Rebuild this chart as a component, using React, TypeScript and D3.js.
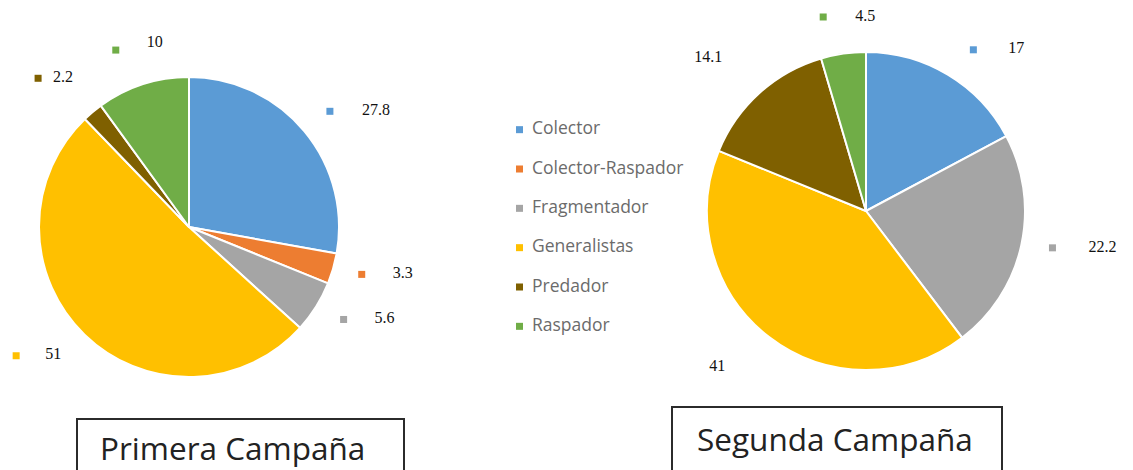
import React from "react";
import * as d3 from "d3";

const categories = ["Colector", "Colector-Raspador", "Fragmentador", "Generalistas", "Predador", "Raspador"];
const colors = ["#5B9BD5", "#ED7D31", "#A5A5A5", "#FFC000", "#7F6000", "#70AD47"];
const primeraValues = [27.8, 3.3, 5.6, 51, 2.2, 10];
const segundaValues = [17, 0, 22.2, 41, 14.1, 4.5];
const primeraLabels = ["27.8", "3.3", "5.6", "51", "2.2", "10"];
const segundaLabels = ["17", "", "22.2", "41", "14.1", "4.5"];
const titles = ["Primera Campaña", "Segunda Campaña"];

// layout (label adjustments relative to computed label anchor)
const primeraLayout = [
  { dx: -1, dy: 3, gap: 32, tdy: 0, marker: true },
  { dx: -5, dy: -4, gap: 31, tdy: 0, marker: true },
  { dx: -2, dy: -6, gap: 31, tdy: 0, marker: true },
  { dx: -44, dy: -4, gap: 29, tdy: 0, marker: true },
  { dx: -32, dy: -7, gap: 15, tdy: 0, marker: true },
  { dx: -16, dy: -1, gap: 31, tdy: -7, marker: true },
];
const segundaLayout = [
  { dx: 7, dy: 6, gap: 35, tdy: 0, marker: true },
  { dx: 0, dy: 0, gap: 0, tdy: 0, marker: false },
  { dx: -4, dy: -5, gap: 36, tdy: 0, marker: true },
  { dx: -70, dy: 2, gap: 32, tdy: 0, marker: false },
  { dx: -73, dy: -8, gap: 32, tdy: 0, marker: false },
  { dx: -15, dy: -1, gap: 32, tdy: 0, marker: true },
];

type PieProps = {
  values: number[];
  labels: string[];
  layout: { dx: number; dy: number; gap: number; tdy: number; marker: boolean }[];
  cx: number;
  cy: number;
  r: number;
  labelR: number;
};

function Pie({ values, labels, layout, cx, cy, r, labelR }: PieProps) {
  const pie = d3.pie<number>().sort(null).value((d) => d);
  const arcs = pie(values);
  const arc = d3.arc<d3.PieArcDatum<number>>().innerRadius(0).outerRadius(r);
  const labelArc = d3.arc<d3.PieArcDatum<number>>().innerRadius(labelR).outerRadius(labelR);
  return (
    <g transform={`translate(${cx},${cy})`}>
      {arcs.map((a, i) =>
        a.value > 0 ? (
          <path key={i} d={arc(a) || ""} fill={colors[i]} stroke="#fff" strokeWidth={2} strokeLinejoin="round" />
        ) : null
      )}
      {arcs.map((a, i) => {
        if (!labels[i]) return null;
        const [x, y] = labelArc.centroid(a);
        const L = layout[i];
        const mx = x + L.dx;
        const my = y + L.dy;
        return (
          <g key={"l" + i}>
            {L.marker && <rect x={mx - 3.5} y={my - 3.5} width={7} height={7} fill={colors[i]} />}
            <text
              x={mx + L.gap}
              y={my + L.tdy}
              dominantBaseline="middle"
              fontFamily="'Liberation Serif', 'DejaVu Serif', serif"
              fontSize={16}
              fill="#111"
            >
              {labels[i]}
            </text>
          </g>
        );
      })}
    </g>
  );
}

export default function App() {
  const legendY = d3.scaleBand<string>().domain(categories).range([110, 346]);
  return (
    <svg width={1133} height={470} style={{ position: "absolute", left: 0, top: 0, background: "#fff" }}>
      <rect width={1133} height={470} fill="#fff" />
      <Pie values={primeraValues} labels={primeraLabels} layout={primeraLayout} cx={189} cy={227} r={150} labelR={185} />
      <Pie values={segundaValues} labels={segundaLabels} layout={segundaLayout} cx={866} cy={211} r={159} labelR={195} />
      <g>
        {categories.map((c, i) => {
          const y = (legendY(c) || 0) + legendY.bandwidth() / 2;
          return (
            <g key={c}>
              <rect x={516} y={y - 3.5} width={7} height={7} fill={colors[i]} />
              <text x={532} y={y} dominantBaseline="middle" fontFamily="'Open Sans', sans-serif" fontSize={17.5} fill="#6b6b6b">
                {c}
              </text>
            </g>
          );
        })}
      </g>
      <rect x={77} y={419} width={327} height={70} fill="none" stroke="#2b2b2b" strokeWidth={2} />
      <text x={100} y={460} fontFamily="'Open Sans', sans-serif" fontSize={31.5} fill="#222">
        {titles[0]}
      </text>
      <rect x={672} y={407} width={330} height={80} fill="none" stroke="#2b2b2b" strokeWidth={2} />
      <text x={697} y={451} fontFamily="'Open Sans', sans-serif" fontSize={31.5} fill="#222">
        {titles[1]}
      </text>
    </svg>
  );
}
